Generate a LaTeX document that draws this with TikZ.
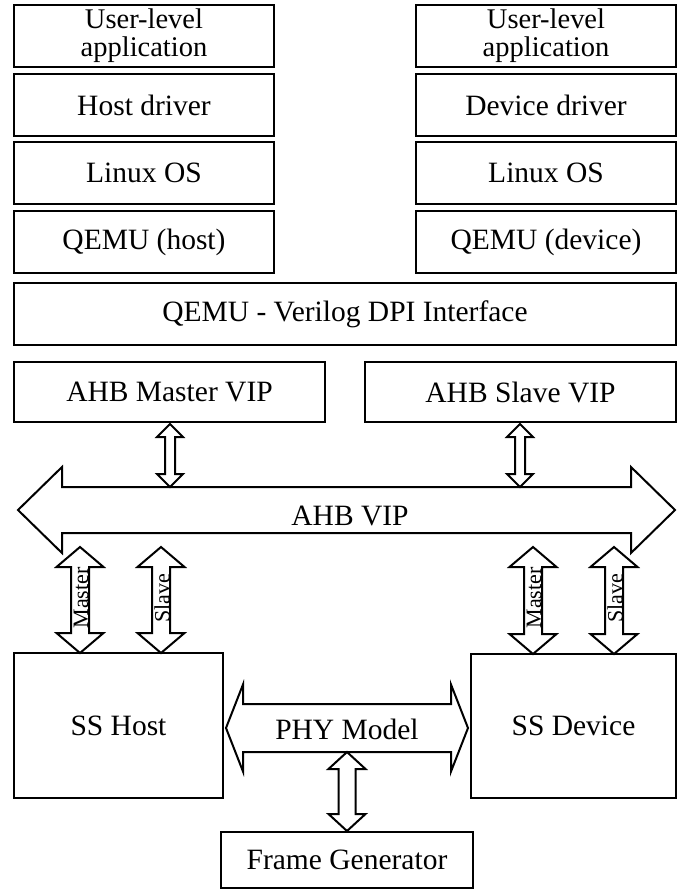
\documentclass[tikz,border=0pt]{standalone}
\usepackage{fontspec}
\setmainfont{Liberation Serif}
\tikzset{
  box/.style={draw, line width=2pt, inner sep=0pt, align=center, font=\fontsize{29.5}{25}\selectfont},
  box2/.style={box, font=\fontsize{28.5}{28}\selectfont},
  blk/.style={draw, line width=2pt, fill=white, line join=miter},
  lbl/.style={inner sep=0pt, font=\fontsize{29.5}{25}\selectfont},
  vlbl/.style={inner sep=0pt, rotate=90, font=\fontsize{22}{24}\selectfont}
}
% name, x, ytop, ybot, head half width, shaft half width, head length
\newcommand\myvarrow[7]{%
  \coordinate (#1-a) at (#2,#3);
  \coordinate (#1-b) at (#2,#4);
  \draw[blk] (#1-a) -- ({#2+#5},{#3+#7}) -- ({#2+#6},{#3+#7}) -- ({#2+#6},{#4-#7})
    -- ({#2+#5},{#4-#7}) -- (#1-b) -- ({#2-#5},{#4-#7}) -- ({#2-#6},{#4-#7})
    -- ({#2-#6},{#3+#7}) -- ({#2-#5},{#3+#7}) -- cycle;}
% name, y, xleft, xright, head half height, shaft half height, head length
\newcommand\myharrow[7]{%
  \coordinate (#1-a) at (#3,#2);
  \coordinate (#1-b) at (#4,#2);
  \draw[blk] (#1-a) -- ({#3+#7},{#2-#5}) -- ({#3+#7},{#2-#6}) -- ({#4-#7},{#2-#6})
    -- ({#4-#7},{#2-#5}) -- (#1-b) -- ({#4-#7},{#2+#5}) -- ({#4-#7},{#2+#6})
    -- ({#3+#7},{#2+#6}) -- ({#3+#7},{#2+#5}) -- cycle;}
\begin{document}
\begin{tikzpicture}[x=1pt,y=-1pt]
\useasboundingbox (0,0) rectangle (678,892);
% left stack
\node[box2, minimum width=260, minimum height=62] (ua1) at (144,36) {User-level\\application};
\node[box, minimum width=260, minimum height=62] (hd) at (144,105) {Host driver};
\node[box, minimum width=260, minimum height=62] (los1) at (144,173) {Linux OS};
\node[box, minimum width=260, minimum height=62] (qh) at (144,242) {QEMU (host)};
% right stack
\node[box2, minimum width=260, minimum height=62] (ua2) at (546,36) {User-level\\application};
\node[box, minimum width=260, minimum height=62] (dd) at (546,105) {Device driver};
\node[box, minimum width=260, minimum height=62] (los2) at (546,173) {Linux OS};
\node[box, minimum width=260, minimum height=62] (qd) at (546,242) {QEMU (device)};
% DPI
\node[box, minimum width=662, minimum height=62] (dpi) at (345,314) {QEMU - Verilog DPI Interface};
% VIPs
\node[box, minimum width=311, minimum height=60] (mvip) at (169.5,392) {AHB Master VIP};
\node[box, minimum width=311, minimum height=60] (svip) at (520.5,392) {AHB Slave VIP};
% bus
\myharrow{bus}{510}{18}{675}{43}{23}{44}
\node[lbl] (buslbl) at (350,516) {AHB VIP};
\myvarrow{mv}{170}{424}{487}{13}{5}{13}
\myvarrow{sv}{520}{424}{487}{13}{5}{13}
% SS blocks
\node[box, minimum width=209, minimum height=145] (ssh) at (118.5,725.5) {SS Host};
\node[box, minimum width=205, minimum height=144] (ssd) at (573.5,726) {SS Device};
% master/slave arrows
\myvarrow{hm}{80}{547}{653}{23.5}{9}{20}
\myvarrow{hs}{161}{547}{653}{23.5}{9}{20}
\myvarrow{dm}{533}{547}{654}{23.5}{9}{20}
\myvarrow{ds}{614}{547}{654}{23.5}{9}{20}
\node[vlbl] (hml) at (81,598) {Master};
\node[vlbl] (hsl) at (162,598) {Slave};
\node[vlbl] (dml) at (534,598) {Master};
\node[vlbl] (dsl) at (615,598) {Slave};
% PHY
\myharrow{phy}{728}{226}{468}{43.5}{24}{17}
\node[lbl] (phylbl) at (347,729) {PHY Model};
\myvarrow{fga}{347}{752}{831}{18.5}{8.5}{17}
\node[box, minimum width=252, minimum height=56] (fg) at (347,860) {Frame Generator};
\end{tikzpicture}
\end{document}
